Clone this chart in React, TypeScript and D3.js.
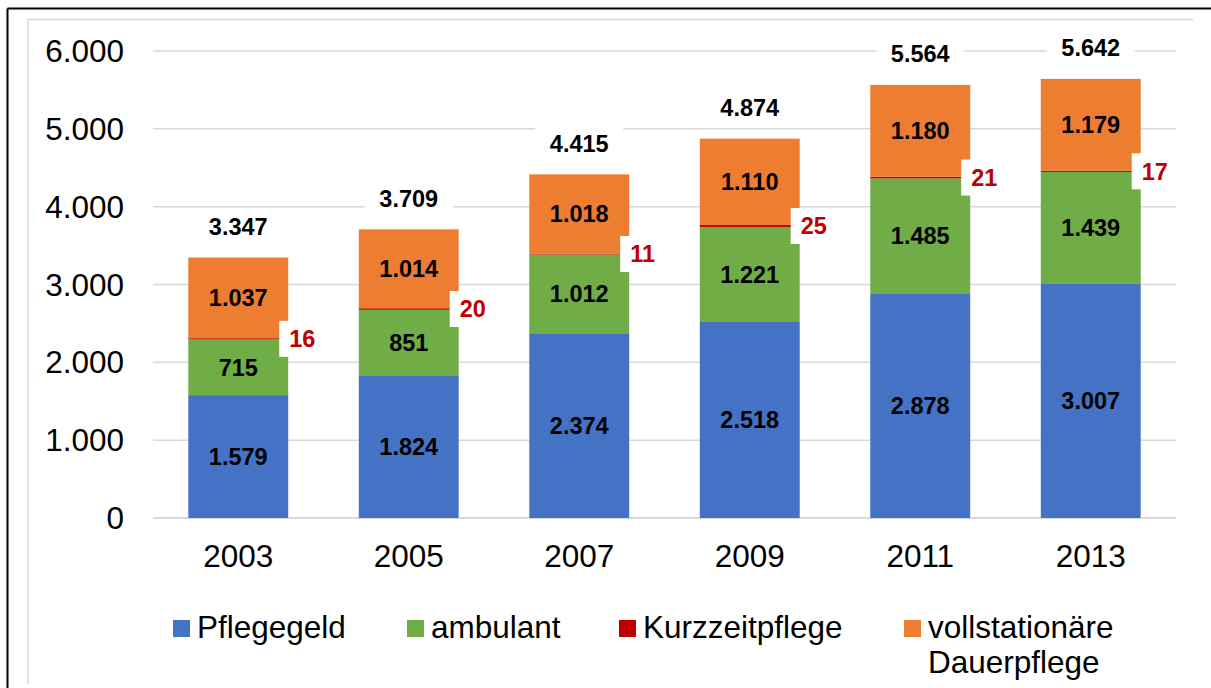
import React from "react";
import * as d3 from "d3";

const years = ["2003", "2005", "2007", "2009", "2011", "2013"];
const pflegegeld = [1579, 1824, 2374, 2518, 2878, 3007];
const ambulant = [715, 851, 1012, 1221, 1485, 1439];
const kurzzeit = [16, 20, 11, 25, 21, 17];
const vollstationaer = [1037, 1014, 1018, 1110, 1180, 1179];
const yTicks = [0, 1000, 2000, 3000, 4000, 5000, 6000];

const seriesNames = ["Pflegegeld", "ambulant", "Kurzzeitpflege", "vollstationäre Dauerpflege"];
const colors = ["#4472C4", "#70AD47", "#C00000", "#ED7D31"];

const fmt = (v: number) => d3.format(",")(v).replace(/,/g, ".");
const FONT = "Liberation Sans, Arial, sans-serif";

export default function App() {
  const W = 1211, H = 688;
  const x = d3.scaleBand().domain(years).range([153, 1176]).paddingInner(0.414).paddingOuter(0.207);
  const y = d3.scaleLinear().domain([0, 6000]).range([518, 51]);

  const rows = years.map((yr, i) => ({
    year: yr,
    Pflegegeld: pflegegeld[i],
    ambulant: ambulant[i],
    Kurzzeitpflege: kurzzeit[i],
    "vollstationäre Dauerpflege": vollstationaer[i],
  }));
  const stack = d3.stack<any>().keys(seriesNames)(rows);
  const totals = years.map((_, i) => pflegegeld[i] + ambulant[i] + kurzzeit[i] + vollstationaer[i]);

  const legendItems = [
    { x: 173, lines: ["Pflegegeld"] },
    { x: 407, lines: ["ambulant"] },
    { x: 619, lines: ["Kurzzeitpflege"] },
    { x: 904, lines: ["vollstationäre", "Dauerpflege"] },
  ];

  return (
    <svg width={W} height={H} style={{ position: "absolute", left: 0, top: 0, background: "#fff" }} fontFamily={FONT}>
      <rect x={0} y={0} width={W} height={H} fill="#fff" />
      {/* frames */}
      <line x1={7.5} y1={8.5} x2={W} y2={8.5} stroke="#000" strokeWidth={2} />
      <line x1={7.5} y1={8.5} x2={7.5} y2={H} stroke="#000" strokeWidth={2} />
      <line x1={28} y1={19.5} x2={1193} y2={19.5} stroke="#d9d9d9" strokeWidth={1.5} />
      <line x1={28} y1={19.5} x2={28} y2={684} stroke="#d9d9d9" strokeWidth={1.5} />

      {/* gridlines */}
      {yTicks.map((t) => (
        <line key={t} x1={153} x2={1176} y1={y(t)} y2={y(t)} stroke="#d9d9d9" strokeWidth={t === 0 ? 2 : 1.5} />
      ))}
      {yTicks.map((t) => (
        <text key={"l" + t} x={124} y={y(t)} dy="0.35em" textAnchor="end" fontSize={31.5} fill="#000">
          {fmt(t)}
        </text>
      ))}

      {/* bars */}
      {stack.map((s, si) => (
        <g key={s.key} fill={colors[si]}>
          {s.map((d, i) => (
            <rect key={i} x={x(years[i])} width={x.bandwidth()} y={y(d[1])} height={y(d[0]) - y(d[1])} />
          ))}
        </g>
      ))}

      {/* segment labels */}
      {stack.map((s, si) =>
        si === 2
          ? null
          : s.map((d, i) => (
              <text
                key={s.key + i}
                x={(x(years[i]) as number) + x.bandwidth() / 2}
                y={(y(d[0]) + y(d[1])) / 2}
                dy="0.35em"
                textAnchor="middle"
                fontSize={23.5}
                fontWeight="bold"
                fill="#000"
              >
                {fmt(d[1] - d[0])}
              </text>
            ))
      )}

      {/* Kurzzeitpflege labels */}
      {stack[2].map((d, i) => {
        const bx = (x(years[i]) as number) + x.bandwidth();
        const cy = (y(d[0]) + y(d[1])) / 2;
        return (
          <g key={"k" + i}>
            <rect x={bx - 9} y={cy - 18} width={40} height={36} fill="#fff" />
            <text x={bx + 1} y={cy} dy="0.35em" fontSize={23.5} fontWeight="bold" fill="#C00000">
              {fmt(d[1] - d[0])}
            </text>
          </g>
        );
      })}

      {/* totals */}
      {totals.map((t, i) => {
        const cx = (x(years[i]) as number) + x.bandwidth() / 2;
        const cy = y(t) - 31;
        return (
          <g key={"t" + i}>
            <rect x={cx - 44} y={cy - 16} width={88} height={32} fill="#fff" />
            <text x={cx} y={cy} dy="0.35em" textAnchor="middle" fontSize={23.5} fontWeight="bold" fill="#000">
              {fmt(t)}
            </text>
          </g>
        );
      })}

      {/* x labels */}
      {years.map((yr) => (
        <text key={"x" + yr} x={(x(yr) as number) + x.bandwidth() / 2} y={567} textAnchor="middle" fontSize={31.5} fill="#000">
          {yr}
        </text>
      ))}

      {/* legend */}
      {legendItems.map((it, i) => (
        <g key={"lg" + i}>
          <rect x={it.x} y={620} width={17} height={17} fill={colors[i]} />
          {it.lines.map((ln, li) => (
            <text key={li} x={it.x + 24} y={638 + li * 35} fontSize={31.5} fill="#000">
              {ln}
            </text>
          ))}
        </g>
      ))}
    </svg>
  );
}
